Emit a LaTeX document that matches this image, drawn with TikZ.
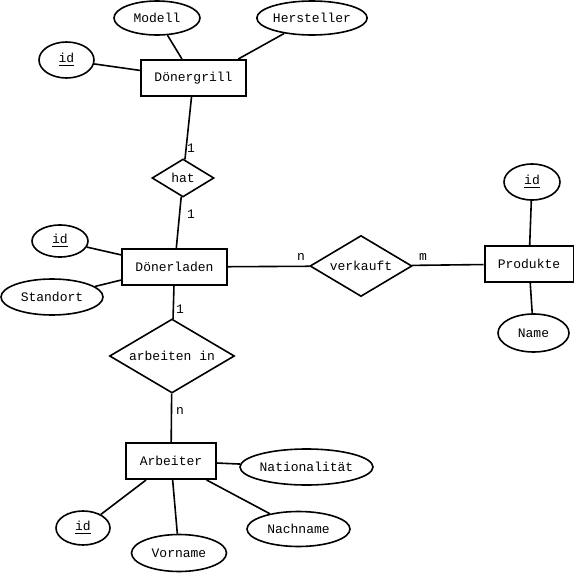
\documentclass[tikz,border=0pt]{standalone}
\usepackage{fontspec}
\setmonofont{Liberation Mono}
\usetikzlibrary{shapes.geometric}
\newcommand{\keyul}[1]{\setbox0\hbox{#1}\leavevmode\rlap{\rule[-3.5pt]{\wd0}{1.8pt}}\box0}
\begin{document}
\begin{tikzpicture}[x=1pt,y=-1pt,
  every node/.style={font=\ttfamily\fontsize{13}{15}\selectfont},
  ent/.style={draw,line width=2pt,rectangle,inner sep=0pt},
  attr/.style={draw,line width=1.6pt,ellipse,inner sep=0pt},
  rel/.style={draw,line width=1.6pt,diamond,inner sep=0pt},
  conn/.style={line width=1.6pt},
  card/.style={inner sep=0pt}]
\useasboundingbox (0,0) rectangle (574,573);
% entities
\node[ent,minimum width=105pt,minimum height=36pt] (dg) at (193.5,78) {Dönergrill};
\node[ent,minimum width=105pt,minimum height=36pt] (dl) at (174.5,267) {Dönerladen};
\node[ent,minimum width=90pt,minimum height=36pt] (ar) at (171,461) {Arbeiter};
\node[ent,minimum width=89pt,minimum height=36pt] (pr) at (529,264) {Produkte};
% relations
\node[rel,aspect=1.63,minimum width=62pt,minimum height=38pt] (hat) at (183,178) {hat};
\node[rel,aspect=1.67,minimum width=102pt,minimum height=61pt] (vk) at (361,266) {verkauft};
\node[rel,aspect=1.69,minimum width=125pt,minimum height=74pt] (ai) at (172,356) {arbeiten in};
% attributes
\node[attr,minimum width=86pt,minimum height=34pt] (mo) at (157,18) {Modell};
\node[attr,minimum width=90pt,minimum height=34pt] (hs) at (312,18) {Hersteller};
\node[attr,minimum width=55pt,minimum height=36pt] (id1) at (66.5,60) {\keyul{id}};
\node[attr,minimum width=56pt,minimum height=32pt] (id2) at (60,241) {\keyul{id}};
\node[attr,minimum width=102pt,minimum height=36pt] (so) at (52,297) {Standort};
\node[attr,minimum width=56pt,minimum height=36pt] (id3) at (532,182) {\keyul{id}};
\node[attr,minimum width=71pt,minimum height=38pt] (na) at (533.5,333) {Name};
\node[attr,minimum width=133pt,minimum height=36pt] (nat) at (306.5,467) {Nationalität};
\node[attr,minimum width=54pt,minimum height=34pt] (id4) at (83,528) {\keyul{id}};
\node[attr,minimum width=95pt,minimum height=37pt] (vn) at (179,553) {Vorname};
\node[attr,minimum width=103pt,minimum height=35pt] (nn) at (298.5,529) {Nachname};
% connectors
\draw[conn] (id1) -- (dg);
\draw[conn] (mo) -- (dg);
\draw[conn] (hs) -- (dg.23);
\draw[conn] (dg) -- (hat);
\draw[conn] (hat) -- (dl);
\draw[conn] (id2) -- (dl);
\draw[conn] (so) -- (dl);
\draw[conn] (dl) -- (ai);
\draw[conn] (ai) -- (ar);
\draw[conn] (dl) -- (vk);
\draw[conn] (vk) -- (pr);
\draw[conn] (id3) -- (pr);
\draw[conn] (na) -- (pr);
\draw[conn] (ar) -- (nat);
\draw[conn] (ar) -- (id4);
\draw[conn] (ar) -- (vn);
\draw[conn] (ar) -- (nn);
% cardinalities
\node[card] (c1) at (191,148) {1};
\node[card] (c2) at (191,214) {1};
\node[card] (c3) at (180,309) {1};
\node[card] (c4) at (180,411) {n};
\node[card] (c5) at (301,257) {n};
\node[card] (c6) at (423,257) {m};
\end{tikzpicture}
\end{document}
